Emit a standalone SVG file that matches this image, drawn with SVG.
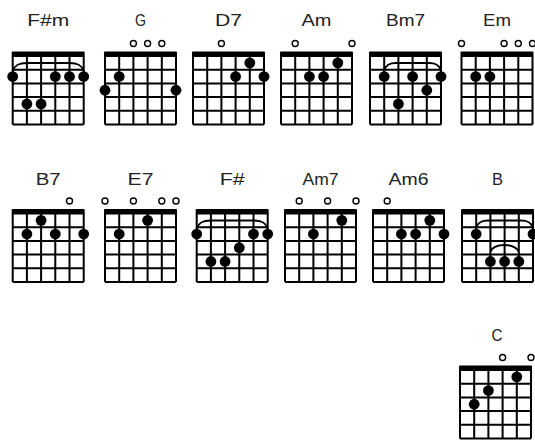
<svg xmlns="http://www.w3.org/2000/svg" xmlns:xlink="http://www.w3.org/1999/xlink" width="535" height="443" viewBox="0 0 535 443">
<style>
.grid{fill:none;stroke:#000;stroke-width:2}
.nut{fill:#000}
.dot{fill:#000}
.open{fill:#fff;stroke:#000;stroke-width:1.4}
.barre{fill:none;stroke:#000;stroke-width:2}
.lbl{font-family:"Liberation Sans",Arial,sans-serif;font-size:16.5px;fill:#222;text-anchor:middle}
</style>
<defs>
<g id="fret">
<rect class="nut" x="-1" y="-4.5" width="73" height="5.5" rx="1"/>
<path class="grid" d="M0,0V68.5M14.2,0V68.5M28.4,0V68.5M42.6,0V68.5M56.8,0V68.5M71,0V68.5M0,13.7H71M0,27.4H71M0,41.1H71M0,54.8H71M0,68.5H71"/>
</g>
</defs>
<rect width="535" height="443" fill="#fff"/>

<g id="chord-Fsharpm" transform="translate(12.7,56)">
<text class="lbl" x="35.5" y="-30" textLength="42" lengthAdjust="spacingAndGlyphs">F#m</text>
<use xlink:href="#fret"/>
<path class="barre" d="M0,15C2,9 6,7 14,7L57,7C65,7 69,9 71,15"/>
<circle class="dot" cx="0" cy="20.55" r="5.4"/><circle class="dot" cx="42.6" cy="20.55" r="5.4"/><circle class="dot" cx="56.8" cy="20.55" r="5.4"/><circle class="dot" cx="71" cy="20.55" r="5.4"/>
<circle class="dot" cx="14.2" cy="47.95" r="5.4"/><circle class="dot" cx="28.4" cy="47.95" r="5.4"/>
</g>

<g id="chord-G" transform="translate(105,56)">
<text class="lbl" x="35.5" y="-30" textLength="11" lengthAdjust="spacingAndGlyphs">G</text>
<use xlink:href="#fret"/>
<circle class="open" cx="28.4" cy="-12.5" r="3"/><circle class="open" cx="42.6" cy="-12.5" r="3"/><circle class="open" cx="56.8" cy="-12.5" r="3"/>
<circle class="dot" cx="0" cy="34.25" r="5.4"/><circle class="dot" cx="14.2" cy="20.55" r="5.4"/><circle class="dot" cx="71" cy="34.25" r="5.4"/>
</g>

<g id="chord-D7" transform="translate(193,56)">
<text class="lbl" x="35.5" y="-30" textLength="27" lengthAdjust="spacingAndGlyphs">D7</text>
<use xlink:href="#fret"/>
<circle class="open" cx="28.4" cy="-12.5" r="3"/>
<circle class="dot" cx="56.8" cy="6.85" r="5.4"/><circle class="dot" cx="42.6" cy="20.55" r="5.4"/><circle class="dot" cx="71" cy="20.55" r="5.4"/>
</g>

<g id="chord-Am" transform="translate(281,56)">
<text class="lbl" x="35.5" y="-30" textLength="30" lengthAdjust="spacingAndGlyphs">Am</text>
<use xlink:href="#fret"/>
<circle class="open" cx="14.2" cy="-12.5" r="3"/><circle class="open" cx="71" cy="-12.5" r="3"/>
<circle class="dot" cx="56.8" cy="6.85" r="5.4"/><circle class="dot" cx="28.4" cy="20.55" r="5.4"/><circle class="dot" cx="42.6" cy="20.55" r="5.4"/>
</g>

<g id="chord-Bm7" transform="translate(370,56)">
<text class="lbl" x="35.5" y="-30" textLength="39" lengthAdjust="spacingAndGlyphs">Bm7</text>
<use xlink:href="#fret"/>
<path class="barre" d="M14.2,14C16,9 19,7 26,7L59,7C66,7 69,9 71,14"/>
<circle class="dot" cx="14.2" cy="20.55" r="5.4"/><circle class="dot" cx="42.6" cy="20.55" r="5.4"/><circle class="dot" cx="71" cy="20.55" r="5.4"/>
<circle class="dot" cx="56.8" cy="34.25" r="5.4"/><circle class="dot" cx="28.4" cy="47.95" r="5.4"/>
</g>

<g id="chord-Em" transform="translate(461.5,56)">
<text class="lbl" x="35.5" y="-30" textLength="28" lengthAdjust="spacingAndGlyphs">Em</text>
<use xlink:href="#fret"/>
<circle class="open" cx="0" cy="-12.5" r="3"/><circle class="open" cx="42.6" cy="-12.5" r="3"/><circle class="open" cx="56.8" cy="-12.5" r="3"/><circle class="open" cx="71" cy="-12.5" r="3"/>
<circle class="dot" cx="14.2" cy="20.55" r="5.4"/><circle class="dot" cx="28.4" cy="20.55" r="5.4"/>
</g>

<g id="chord-B7" transform="translate(12.7,213.5)">
<text class="lbl" x="35.5" y="-29" textLength="25" lengthAdjust="spacingAndGlyphs">B7</text>
<use xlink:href="#fret"/>
<circle class="open" cx="56.8" cy="-12.5" r="3"/>
<circle class="dot" cx="28.4" cy="6.85" r="5.4"/><circle class="dot" cx="14.2" cy="20.55" r="5.4"/><circle class="dot" cx="42.6" cy="20.55" r="5.4"/><circle class="dot" cx="71" cy="20.55" r="5.4"/>
</g>

<g id="chord-E7" transform="translate(105,213.5)">
<text class="lbl" x="35.5" y="-29" textLength="26" lengthAdjust="spacingAndGlyphs">E7</text>
<use xlink:href="#fret"/>
<circle class="open" cx="0" cy="-12.5" r="3"/><circle class="open" cx="28.4" cy="-12.5" r="3"/><circle class="open" cx="56.8" cy="-12.5" r="3"/><circle class="open" cx="71" cy="-12.5" r="3"/>
<circle class="dot" cx="42.6" cy="6.85" r="5.4"/><circle class="dot" cx="14.2" cy="20.55" r="5.4"/>
</g>

<g id="chord-Fsharp" transform="translate(196.7,213.5)">
<text class="lbl" x="35.5" y="-29" textLength="25" lengthAdjust="spacingAndGlyphs">F#</text>
<use xlink:href="#fret"/>
<path class="barre" d="M0,15C2,9 6,7 14,7L57,7C65,7 69,9 71,15"/>
<circle class="dot" cx="0" cy="20.55" r="5.4"/><circle class="dot" cx="56.8" cy="20.55" r="5.4"/><circle class="dot" cx="71" cy="20.55" r="5.4"/>
<circle class="dot" cx="42.6" cy="34.25" r="5.4"/>
<circle class="dot" cx="14.2" cy="47.95" r="5.4"/><circle class="dot" cx="28.4" cy="47.95" r="5.4"/>
</g>

<g id="chord-Am7" transform="translate(285,213.5)">
<text class="lbl" x="35.5" y="-29" textLength="36" lengthAdjust="spacingAndGlyphs">Am7</text>
<use xlink:href="#fret"/>
<circle class="open" cx="14.2" cy="-12.5" r="3"/><circle class="open" cx="42.6" cy="-12.5" r="3"/><circle class="open" cx="71" cy="-12.5" r="3"/>
<circle class="dot" cx="56.8" cy="6.85" r="5.4"/><circle class="dot" cx="28.4" cy="20.55" r="5.4"/>
</g>

<g id="chord-Am6" transform="translate(373,213.5)">
<text class="lbl" x="35.5" y="-29" textLength="40" lengthAdjust="spacingAndGlyphs">Am6</text>
<use xlink:href="#fret"/>
<circle class="open" cx="14.2" cy="-12.5" r="3"/>
<circle class="dot" cx="56.8" cy="6.85" r="5.4"/><circle class="dot" cx="28.4" cy="20.55" r="5.4"/><circle class="dot" cx="42.6" cy="20.55" r="5.4"/><circle class="dot" cx="71" cy="20.55" r="5.4"/>
</g>

<g id="chord-B" transform="translate(462,213.5)">
<text class="lbl" x="35.5" y="-29" textLength="11" lengthAdjust="spacingAndGlyphs">B</text>
<use xlink:href="#fret"/>
<path class="barre" d="M14.2,14C16,9 19,7 26,7L59,7C66,7 69,9 71,14"/>
<path class="barre" d="M28.4,38C31,33 35,31.5 42.6,31.5C50,31.5 54,33 56.8,38"/>
<circle class="dot" cx="14.2" cy="20.55" r="5.4"/><circle class="dot" cx="71" cy="20.55" r="5.4"/>
<circle class="dot" cx="28.4" cy="47.95" r="5.4"/><circle class="dot" cx="42.6" cy="47.95" r="5.4"/><circle class="dot" cx="56.8" cy="47.95" r="5.4"/>
</g>

<g id="chord-C" transform="translate(460,370)">
<text class="lbl" x="37" y="-29.5" textLength="11" lengthAdjust="spacingAndGlyphs">C</text>
<use xlink:href="#fret"/>
<circle class="open" cx="42.6" cy="-12.5" r="3"/><circle class="open" cx="71" cy="-12.5" r="3"/>
<circle class="dot" cx="56.8" cy="6.85" r="5.4"/><circle class="dot" cx="28.4" cy="20.55" r="5.4"/><circle class="dot" cx="14.2" cy="34.25" r="5.4"/>
</g>
</svg>
